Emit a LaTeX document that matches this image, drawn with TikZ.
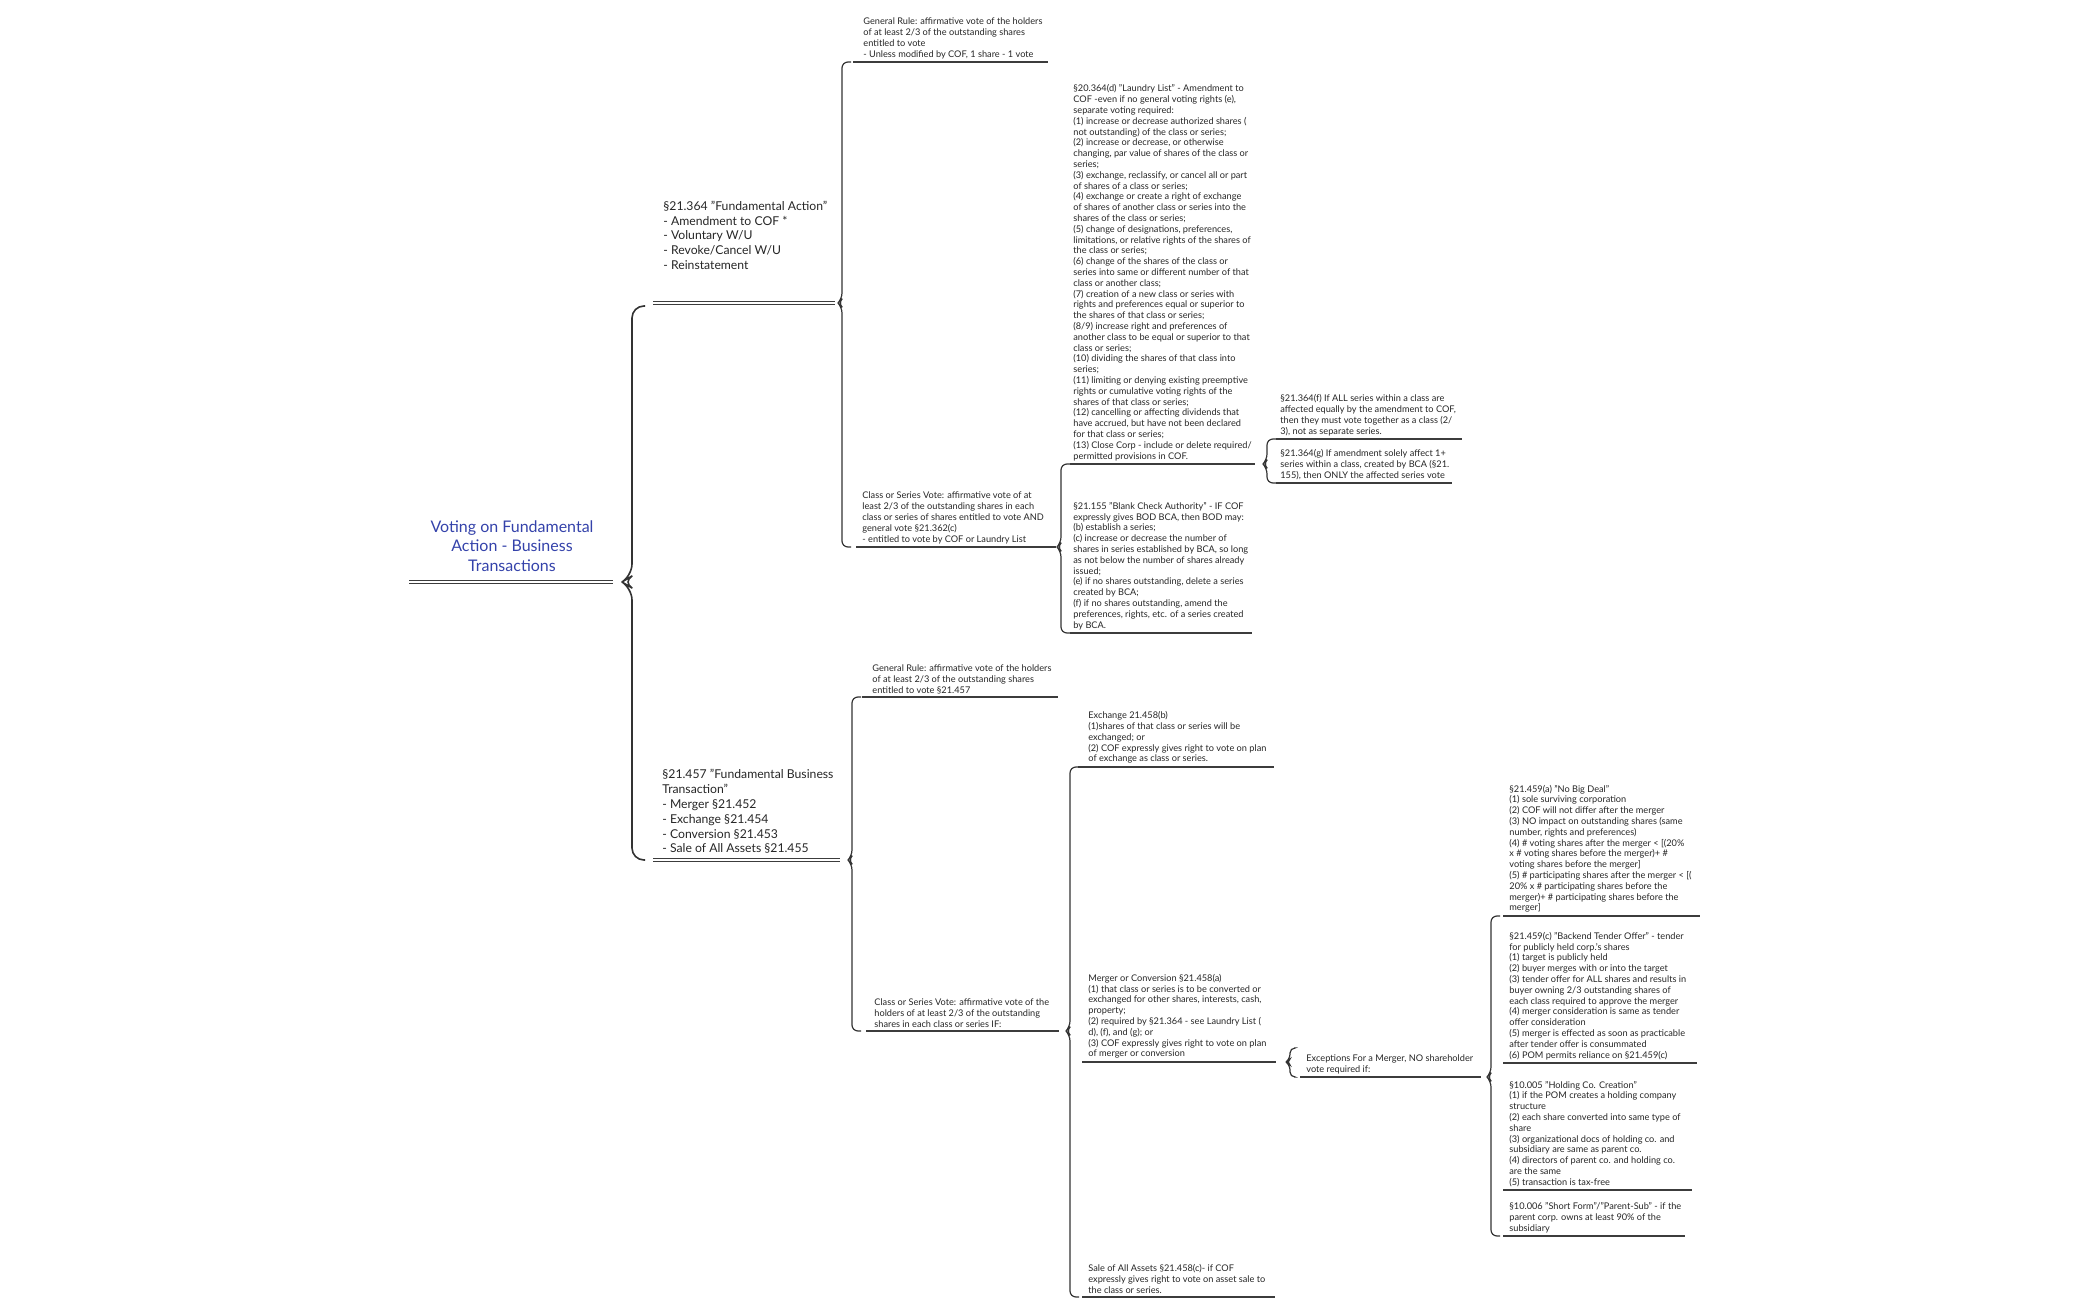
\documentclass[tikz,border=0pt]{standalone}
\usepackage{fontspec}
\setmainfont{Lato}
\definecolor{ttl}{RGB}{52,66,170}
\definecolor{ln}{RGB}{60,60,60}
\tikzset{
  leafs/.style={inner sep=0pt, anchor=south west, align=left, font=\fontsize{4.6}{5.4}\selectfont, text=black!85},
  midtxt/.style={inner sep=0pt, anchor=south west, align=left, font=\fontsize{6.1}{7.4}\selectfont, text=black!85},
  uline/.style={draw=ln, line width=0.75pt},
  dline/.style={draw=ln, line width=0.45pt, double=white, double distance=0.9pt},
  brk/.style={draw=black!80, line width=0.6pt, rounded corners=3pt},
}
\newcommand\leaf[6]{% name, x, uline y, x1, x2, text
  \node[leafs] (#1) at (#2,#3-3) {#6};
  \draw[uline] (#4,#3) -- (#5,#3);}
\newcommand\brkt[4]{% x, top, tip, bottom
  \draw[brk] (#1+9,#2) -- (#1,#2) -- (#1,#3-4) -- (#1-4,#3) -- (#1,#3+4) -- (#1,#4) -- (#1+9,#4);}
\begin{document}
\begin{tikzpicture}[x=0.5pt,y=-0.5pt]
\useasboundingbox (0,0) rectangle (2100,1300);
% root
\node[inner sep=0pt, align=center, font=\fontsize{8}{9.8}\selectfont, text=ttl] (root) at (512,546) {Voting on Fundamental\\Action - Business\\Transactions};
\draw[dline] (409,582) -- (613,582);
\draw[brk, line width=0.8pt, rounded corners=6pt] (645,306) -- (632,306) -- (632,576) -- (622,582) -- (632,588) -- (632,860) -- (645,860);
% Fundamental action
\node[midtxt] (fa) at (663,270) {§21.364 "Fundamental Action"\\- Amendment to COF *\\- Voluntary W/U\\- Revoke/Cancel W/U\\- Reinstatement};
\draw[dline] (653,303) -- (835,303);
\brkt{842}{62}{303}{547}
\leaf{gr1}{863}{62}{853}{1048}{General Rule: affirmative vote of the holders\\of at least 2/3 of the outstanding shares\\entitled to vote\\- Unless modified by COF, 1 share - 1 vote}
\leaf{cv1}{862}{547}{856}{1056}{Class or Series Vote: affirmative vote of at\\least 2/3 of the outstanding shares in each\\class or series of shares entitled to vote AND\\general vote §21.362(c)\\- entitled to vote by COF or Laundry List}
\brkt{1061}{464}{547}{633}
\leaf{ll}{1073}{464}{1070}{1255}{§20.364(d) "Laundry List" - Amendment to\\COF -even if no general voting rights (e),\\separate voting required:\\(1) increase or decrease authorized shares (\\not outstanding) of the class or series;\\(2) increase or decrease, or otherwise\\changing, par value of shares of the class or\\series;\\(3) exchange, reclassify, or cancel all or part\\of shares of a class or series;\\(4) exchange or create a right of exchange\\of shares of another class or series into the\\shares of the class or series;\\(5) change of designations, preferences,\\limitations, or relative rights of the shares of\\the class or series;\\(6) change of the shares of the class or\\series into same or different number of that\\class or another class;\\(7) creation of a new class or series with\\rights and preferences equal or superior to\\the shares of that class or series;\\(8/9) increase right and preferences of\\another class to be equal or superior to that\\class or series;\\(10) dividing the shares of that class into\\series;\\(11) limiting or denying existing preemptive\\rights or cumulative voting rights of the\\shares of that class or series;\\(12) cancelling or affecting dividends that\\have accrued, but have not been declared\\for that class or series;\\(13) Close Corp - include or delete required/\\permitted provisions in COF.}
\leaf{bca}{1073}{633}{1070}{1252}{§21.155 "Blank Check Authority" - IF COF\\expressly gives BOD BCA, then BOD may:\\(b) establish a series;\\(c) increase or decrease the number of\\shares in series established by BCA, so long\\as not below the number of shares already\\issued;\\(e) if no shares outstanding, delete a series\\created by BCA;\\(f) if no shares outstanding, amend the\\preferences, rights, etc. of a series created\\by BCA.}
\brkt{1267}{439}{464}{483}
\leaf{f}{1280}{439}{1276}{1462}{§21.364(f) If ALL series within a class are\\affected equally by the amendment to COF,\\then they must vote together as a class (2/\\3), not as separate series.}
\leaf{g}{1280}{483}{1276}{1452}{§21.364(g) If amendment solely affect 1+\\series within a class, created by BCA (§21.\\155), then ONLY the affected series vote}
% Fundamental business transaction
\node[midtxt] (fbt) at (662,854) {§21.457 "Fundamental Business\\Transaction"\\- Merger §21.452\\- Exchange §21.454\\- Conversion §21.453\\- Sale of All Assets §21.455};
\draw[dline] (653,860) -- (840,860);
\brkt{852}{697}{860}{1031}
\leaf{gr2}{872}{697}{862}{1058}{General Rule: affirmative vote of the holders\\of at least 2/3 of the outstanding shares\\entitled to vote §21.457}
\leaf{cv2}{874}{1031}{866}{1059}{Class or Series Vote: affirmative vote of the\\holders of at least 2/3 of the outstanding\\shares in each class or series IF:}
\brkt{1070}{767}{1031}{1297}
\leaf{ex}{1088}{767}{1078}{1274}{Exchange 21.458(b)\\(1)shares of that class or series will be\\exchanged; or\\(2) COF expressly gives right to vote on plan\\of exchange as class or series.}
\leaf{mc}{1088}{1062}{1082}{1276}{Merger or Conversion §21.458(a)\\(1) that class or series is to be converted or\\exchanged for other shares, interests, cash,\\property;\\(2) required by §21.364 - see Laundry List (\\d), (f), and (g); or\\(3) COF expressly gives right to vote on plan\\of merger or conversion}
\leaf{sa}{1088}{1297}{1082}{1275}{Sale of All Assets §21.458(c)- if COF\\expressly gives right to vote on asset sale to\\the class or series.}
\draw[brk, rounded corners=2.5pt] (1294,1048) -- (1290,1048) -- (1290,1059) -- (1286,1062) -- (1290,1065) -- (1290,1077) -- (1294,1077);
\leaf{exc}{1306}{1077}{1300}{1481}{Exceptions For a Merger, NO shareholder\\vote required if:}
\brkt{1491}{916}{1077}{1236}
\leaf{nbd}{1509}{916}{1503}{1700}{§21.459(a) "No Big Deal"\\(1) sole surviving corporation\\(2) COF will not differ after the merger\\(3) NO impact on outstanding shares (same\\number, rights and preferences)\\(4) \# voting shares after the merger < [(20\%\\x \# voting shares before the merger)+ \#\\voting shares before the merger]\\(5) \# participating shares after the merger < [(\\20\% x \# participating shares before the\\merger)+ \# participating shares before the\\merger]}
\leaf{bto}{1509}{1063}{1503}{1697}{§21.459(c) "Backend Tender Offer" - tender\\for publicly held corp.'s shares\\(1) target is publicly held\\(2) buyer merges with or into the target\\(3) tender offer for ALL shares and results in\\buyer owning 2/3 outstanding shares of\\each class required to approve the merger\\(4) merger consideration is same as tender\\offer consideration\\(5) merger is effected as soon as practicable\\after tender offer is consummated\\(6) POM permits reliance on §21.459(c)}
\leaf{hc}{1509}{1190}{1503}{1692}{§10.005 "Holding Co. Creation"\\(1) if the POM creates a holding company\\structure\\(2) each share converted into same type of\\share\\(3) organizational docs of holding co. and\\subsidiary are same as parent co.\\(4) directors of parent co. and holding co.\\are the same\\(5) transaction is tax-free}
\leaf{sf}{1509}{1236}{1503}{1685}{§10.006 "Short Form"/"Parent-Sub" - if the\\parent corp. owns at least 90\% of the\\subsidiary}
\end{tikzpicture}
\end{document}
